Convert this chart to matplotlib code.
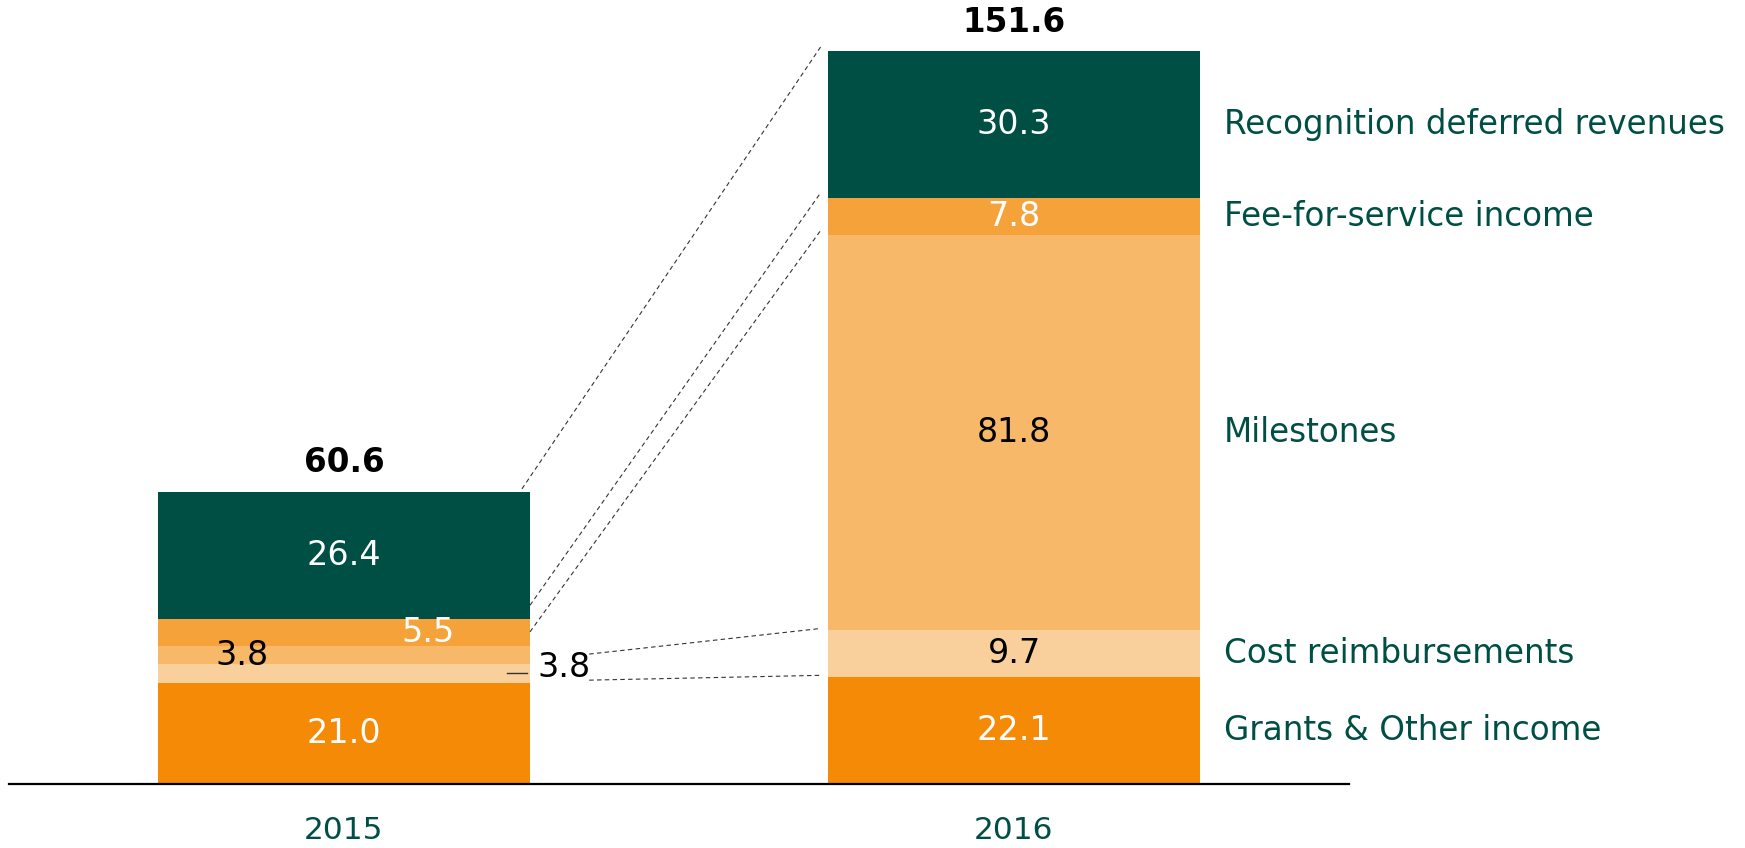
import matplotlib
matplotlib.use("Agg")
import matplotlib.pyplot as plt

years = ["2015", "2016"]
categories = ["Grants & Other income", "Cost reimbursements", "Milestones",
              "Fee-for-service income", "Recognition deferred revenues"]
values_2015 = [21.0, 3.8, 3.8, 5.5, 26.4]
values_2016 = [22.1, 9.7, 81.8, 7.8, 30.3]
totals = ["60.6", "151.6"]

colors = ["#F58A06", "#F9CF9B", "#F8B869", "#F6A23A", "#004F44"]
label_colors_2016 = ["white", "black", "black", "white", "white"]
green = "#004F44"

plt.rcParams["font.family"] = ["DejaVu Sans"]
fs_val = 24
fs_cat = 23.5
fs_year = 22.5

W, H = 1745, 848
base_px = 64            # baseline from bottom, pixels
px_unit = 4.83          # pixels per value unit
px_x = 670              # pixels between bar centers
x0_px = 344             # first bar center
bar_w = 372 / px_x

fig = plt.figure(figsize=(W / 100, H / 100), dpi=100)
ax = fig.add_axes([0, base_px / H, 1, (H - base_px) / H])
ax.set_xlim(-x0_px / px_x, (W - x0_px) / px_x)
ax.set_ylim(0, (H - base_px) / px_unit)
ax.axis("off")

xs = [0, 1]
data = [values_2015, values_2016]
tops = []
for xi, vals in zip(xs, data):
    bottom = 0
    edges = [0]
    for v, c in zip(vals, colors):
        ax.bar(xi, v, bottom=bottom, width=bar_w, color=c, linewidth=0)
        bottom += v
        edges.append(bottom)
    tops.append(edges)

# baseline
ax.plot([-0.5, 1.5], [0, 0], color="black", lw=1.6, clip_on=False)

# segment labels 2016
e16 = tops[1]
for i, v in enumerate(values_2016):
    ax.text(1, (e16[i] + e16[i + 1]) / 2, f"{v:.1f}", ha="center", va="center",
            color=label_colors_2016[i], fontsize=fs_val)

# segment labels 2015
e15 = tops[0]
ax.text(0, (e15[0] + e15[1]) / 2, f"{values_2015[0]:.1f}", ha="center", va="center",
        color="white", fontsize=fs_val)
ax.text(-0.152, (e15[2] + e15[3]) / 2, f"{values_2015[2]:.1f}", ha="center", va="center",
        color="black", fontsize=fs_val)
ax.text(0.126, (e15[3] + e15[4]) / 2, f"{values_2015[3]:.1f}", ha="center", va="center",
        color="white", fontsize=fs_val)
ax.text(0, (e15[4] + e15[5]) / 2, f"{values_2015[4]:.1f}", ha="center", va="center",
        color="white", fontsize=fs_val)
# small value shown outside with leader
cr_mid = (e15[1] + e15[2]) / 2
ax.plot([0.244, 0.273], [cr_mid, cr_mid], color="#333333", lw=1)
ax.text(0.288, cr_mid + 1.2, f"{values_2015[1]:.1f}", ha="left", va="center",
        color="black", fontsize=fs_val)

# totals
for xi, t, e in zip(xs, totals, tops):
    ax.text(xi, e[-1] + 6.0, t, ha="center", va="center", fontsize=fs_cat,
            fontweight="bold", color="black")

# years
for xi, y in zip(xs, years):
    ax.text(xi, -9.6, y, ha="center", va="center", fontsize=fs_year, color=green,
            clip_on=False)

# category labels on the right
for i, cat in enumerate(categories):
    ax.text(1 + bar_w / 2 + 0.036, (e16[i] + e16[i + 1]) / 2, cat, ha="left",
            va="center", fontsize=fs_cat, color=green)

# dashed connectors
right15 = bar_w / 2
left16 = 1 - bar_w / 2 - 0.011
dash = dict(color="#333333", lw=0.8, ls=(0, (4, 3)))
ax.plot([right15 - 0.012, left16], [e15[5] + 0.6, e16[5] + 0.9], **dash)
ax.plot([right15, left16], [e15[4] + 2.9, e16[4] + 1.0], **dash)
ax.plot([right15, left16], [e15[3] + 2.9, e16[3] + 1.0], **dash)
ax.plot([0.366, left16], [e15[2] + 2.1, e16[2] + 0.4], **dash)
ax.plot([0.366, left16], [e15[1] + 0.5, e16[1] + 0.4], **dash)

fig.savefig("out.png", dpi=100)
